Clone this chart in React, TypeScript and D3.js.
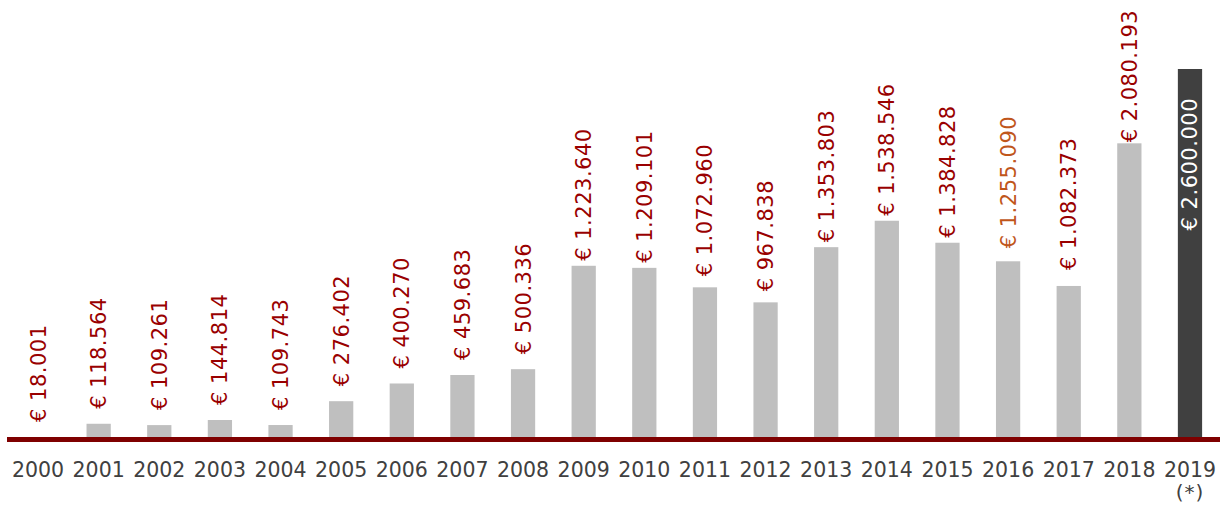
import React from "react";
import * as d3 from "d3";

// yearly amounts (euro); last one is the 2019 estimate
const years = ["2000", "2001", "2002", "2003", "2004", "2005", "2006", "2007", "2008", "2009",
  "2010", "2011", "2012", "2013", "2014", "2015", "2016", "2017", "2018", "2019"];
const amounts = [18001, 118564, 109261, 144814, 109743, 276402, 400270, 459683, 500336, 1223640,
  1209101, 1072960, 967838, 1353803, 1538546, 1384828, 1255090, 1082373, 2080193, 2600000];
const yearNotes: Record<string, string> = { "2019": "(*)" };

const W = 1225;
const H = 506;
const BASE = 437;

const euro = d3.formatLocale({ decimal: ",", thousands: ".", grouping: [3], currency: ["€ ", ""] }).format("$,");

// labels in the original sit at slightly uneven distances above the bars
function labelGap(yr: string) {
  if (+yr <= 2008) return 15;
  if (yr === "2011" || yr === "2012") return 11;
  if (yr === "2016") return 13;
  if (yr === "2017") return 16;
  if (yr === "2018") return 1;
  return 5;
}

export default function App() {
  const x = d3.scaleBand<string>().domain(years).range([7.7, 1220.3]).paddingInner(0.6).paddingOuter(0.3);
  const y = d3.scaleLinear().domain([26000, 2600000]).range([BASE, 69]);
  const font = "'DejaVu Sans', Verdana, sans-serif";
  const last = years[years.length - 1];

  return (
    <svg width={W} height={H} style={{ position: "absolute", left: 0, top: 0, background: "#fff" }}>
      {years.map((yr, i) => {
        const v = amounts[i];
        const cx = (x(yr) ?? 0) + x.bandwidth() / 2;
        const top = Math.min(BASE, y(v));
        const isLast = yr === last;
        return (
          <g key={yr}>
            <rect x={x(yr)} y={top} width={x.bandwidth()} height={BASE + 2 - top} fill={isLast ? "#404040" : "#bfbfbf"} />
            {isLast ? (
              <text transform={`translate(${cx + 7.5},${top + 29}) rotate(-90)`} textAnchor="end"
                fontFamily={font} fontSize={21} letterSpacing={0.5} fill="#ffffff">{euro(v)}</text>
            ) : (
              <text transform={`translate(${cx + 7.5},${top - labelGap(yr)}) rotate(-90)`} textAnchor="start"
                fontFamily={font} fontSize={21} letterSpacing={0.5} fill={yr === "2016" ? "#c0561b" : "#990000"}>{euro(v)}</text>
            )}
          </g>
        );
      })}
      <line x1={7} x2={1220} y1={439.5} y2={439.5} stroke="#7f0000" strokeWidth={5} />
      {years.map((yr) => {
        const cx = (x(yr) ?? 0) + x.bandwidth() / 2;
        return (
          <g key={yr}>
            <text x={cx} y={477} textAnchor="middle" fontFamily={font} fontSize={20.5} fill="#404040">{yr}</text>
            {yearNotes[yr] && (
              <text x={cx} y={499} textAnchor="middle" fontFamily={font} fontSize={20} letterSpacing={1} fill="#404040">{yearNotes[yr]}</text>
            )}
          </g>
        );
      })}
    </svg>
  );
}
